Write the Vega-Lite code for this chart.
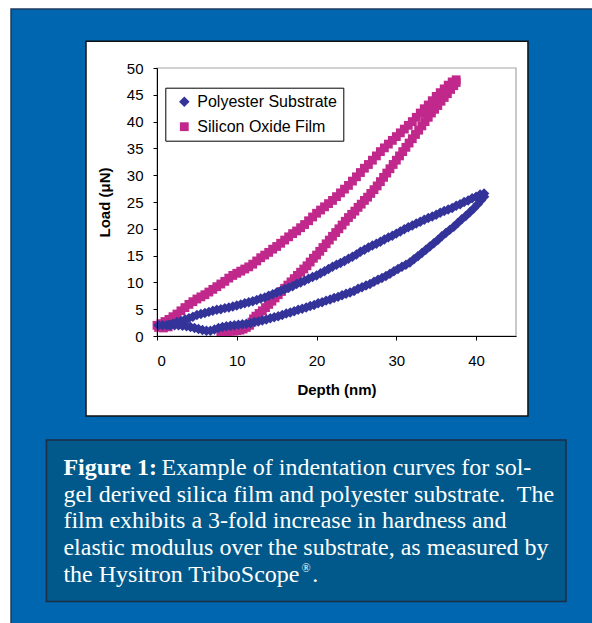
{
 "$schema": "https://vega.github.io/schema/vega-lite/v6.json",
 "width": 359,
 "height": 268,
 "autosize": {"type": "none"},
 "padding": {"left": 157, "top": 68, "right": 76, "bottom": 287},
 "background": "white",
 "config": {
  "view": {"stroke": null},
  "axis": {"grid": false, "labelOverlap": false, "labelFont": "Liberation Sans", "labelFontSize": 15, "labelColor": "black", "tickColor": "black", "tickSize": 4, "domainColor": "black", "domainWidth": 1, "tickWidth": 1, "titleFont": "Liberation Sans", "titleFontSize": 15, "titleFontWeight": "bold", "titleColor": "black"}
 },
 "datasets": {
  "curves": [
   {"series":"Silicon Oxide Film","depth":0.2,"load":1.6},{"series":"Silicon Oxide Film","depth":0.8,"load":1.5},{"series":"Silicon Oxide Film","depth":1.4,"load":1.7},
   {"series":"Silicon Oxide Film","depth":0.0,"load":2.0},{"series":"Silicon Oxide Film","depth":0.5,"load":2.3},{"series":"Silicon Oxide Film","depth":1.0,"load":2.7},{"series":"Silicon Oxide Film","depth":1.5,"load":3.1},{"series":"Silicon Oxide Film","depth":2.0,"load":3.6},{"series":"Silicon Oxide Film","depth":2.5,"load":4.1},{"series":"Silicon Oxide Film","depth":3.0,"load":4.7},{"series":"Silicon Oxide Film","depth":3.5,"load":5.3},{"series":"Silicon Oxide Film","depth":4.0,"load":5.9},{"series":"Silicon Oxide Film","depth":4.5,"load":6.4},{"series":"Silicon Oxide Film","depth":5.0,"load":6.9},{"series":"Silicon Oxide Film","depth":5.5,"load":7.3},{"series":"Silicon Oxide Film","depth":6.0,"load":7.7},{"series":"Silicon Oxide Film","depth":6.5,"load":8.2},{"series":"Silicon Oxide Film","depth":7.0,"load":8.7},{"series":"Silicon Oxide Film","depth":7.5,"load":9.2},{"series":"Silicon Oxide Film","depth":8.0,"load":9.7},{"series":"Silicon Oxide Film","depth":8.5,"load":10.2},{"series":"Silicon Oxide Film","depth":9.0,"load":10.8},{"series":"Silicon Oxide Film","depth":9.5,"load":11.3},{"series":"Silicon Oxide Film","depth":10.0,"load":11.7},{"series":"Silicon Oxide Film","depth":10.5,"load":12.1},{"series":"Silicon Oxide Film","depth":11.0,"load":12.5},{"series":"Silicon Oxide Film","depth":11.5,"load":12.9},{"series":"Silicon Oxide Film","depth":12.0,"load":13.4},{"series":"Silicon Oxide Film","depth":12.5,"load":14.0},{"series":"Silicon Oxide Film","depth":13.0,"load":14.6},{"series":"Silicon Oxide Film","depth":13.5,"load":15.1},{"series":"Silicon Oxide Film","depth":14.0,"load":15.6},{"series":"Silicon Oxide Film","depth":14.5,"load":16.2},{"series":"Silicon Oxide Film","depth":15.0,"load":16.7},{"series":"Silicon Oxide Film","depth":15.5,"load":17.3},{"series":"Silicon Oxide Film","depth":16.0,"load":17.9},{"series":"Silicon Oxide Film","depth":16.5,"load":18.5},{"series":"Silicon Oxide Film","depth":17.0,"load":19.1},{"series":"Silicon Oxide Film","depth":17.5,"load":19.6},{"series":"Silicon Oxide Film","depth":18.0,"load":20.2},{"series":"Silicon Oxide Film","depth":18.5,"load":20.8},{"series":"Silicon Oxide Film","depth":19.0,"load":21.5},{"series":"Silicon Oxide Film","depth":19.5,"load":22.2},{"series":"Silicon Oxide Film","depth":20.0,"load":22.9},{"series":"Silicon Oxide Film","depth":20.5,"load":23.5},{"series":"Silicon Oxide Film","depth":21.0,"load":24.1},{"series":"Silicon Oxide Film","depth":21.5,"load":24.7},{"series":"Silicon Oxide Film","depth":22.0,"load":25.3},{"series":"Silicon Oxide Film","depth":22.5,"load":26.0},{"series":"Silicon Oxide Film","depth":23.0,"load":26.7},{"series":"Silicon Oxide Film","depth":23.5,"load":27.4},{"series":"Silicon Oxide Film","depth":24.0,"load":28.1},{"series":"Silicon Oxide Film","depth":24.5,"load":28.9},{"series":"Silicon Oxide Film","depth":25.0,"load":29.7},{"series":"Silicon Oxide Film","depth":25.5,"load":30.5},{"series":"Silicon Oxide Film","depth":26.0,"load":31.3},{"series":"Silicon Oxide Film","depth":26.5,"load":32.0},{"series":"Silicon Oxide Film","depth":27.0,"load":32.8},{"series":"Silicon Oxide Film","depth":27.5,"load":33.6},{"series":"Silicon Oxide Film","depth":28.0,"load":34.4},{"series":"Silicon Oxide Film","depth":28.5,"load":35.1},{"series":"Silicon Oxide Film","depth":29.0,"load":35.8},{"series":"Silicon Oxide Film","depth":29.5,"load":36.5},{"series":"Silicon Oxide Film","depth":30.0,"load":37.2},{"series":"Silicon Oxide Film","depth":30.5,"load":37.9},{"series":"Silicon Oxide Film","depth":31.0,"load":38.6},{"series":"Silicon Oxide Film","depth":31.5,"load":39.3},{"series":"Silicon Oxide Film","depth":32.0,"load":40.0},{"series":"Silicon Oxide Film","depth":32.5,"load":40.8},{"series":"Silicon Oxide Film","depth":33.0,"load":41.6},{"series":"Silicon Oxide Film","depth":33.5,"load":42.4},{"series":"Silicon Oxide Film","depth":34.0,"load":43.1},{"series":"Silicon Oxide Film","depth":34.5,"load":43.9},{"series":"Silicon Oxide Film","depth":35.0,"load":44.7},{"series":"Silicon Oxide Film","depth":35.5,"load":45.4},{"series":"Silicon Oxide Film","depth":36.0,"load":46.1},{"series":"Silicon Oxide Film","depth":36.5,"load":46.8},{"series":"Silicon Oxide Film","depth":37.0,"load":47.4},{"series":"Silicon Oxide Film","depth":37.5,"load":47.8},
   {"series":"Silicon Oxide Film","depth":37.5,"load":47.3},{"series":"Silicon Oxide Film","depth":37.2,"load":46.7},{"series":"Silicon Oxide Film","depth":36.8,"load":46.0},{"series":"Silicon Oxide Film","depth":36.4,"load":45.2},{"series":"Silicon Oxide Film","depth":36.0,"load":44.5},{"series":"Silicon Oxide Film","depth":35.6,"load":43.8},{"series":"Silicon Oxide Film","depth":35.2,"load":43.0},{"series":"Silicon Oxide Film","depth":34.8,"load":42.3},{"series":"Silicon Oxide Film","depth":34.4,"load":41.6},{"series":"Silicon Oxide Film","depth":34.0,"load":40.8},{"series":"Silicon Oxide Film","depth":33.6,"load":40.0},{"series":"Silicon Oxide Film","depth":33.2,"load":39.2},{"series":"Silicon Oxide Film","depth":32.8,"load":38.4},{"series":"Silicon Oxide Film","depth":32.4,"load":37.6},{"series":"Silicon Oxide Film","depth":32.0,"load":36.8},{"series":"Silicon Oxide Film","depth":31.6,"load":36.0},{"series":"Silicon Oxide Film","depth":31.2,"load":35.2},{"series":"Silicon Oxide Film","depth":30.8,"load":34.4},{"series":"Silicon Oxide Film","depth":30.4,"load":33.6},{"series":"Silicon Oxide Film","depth":30.0,"load":32.8},{"series":"Silicon Oxide Film","depth":29.6,"load":32.0},{"series":"Silicon Oxide Film","depth":29.2,"load":31.2},{"series":"Silicon Oxide Film","depth":28.8,"load":30.4},{"series":"Silicon Oxide Film","depth":28.4,"load":29.6},{"series":"Silicon Oxide Film","depth":28.0,"load":28.8},{"series":"Silicon Oxide Film","depth":27.6,"load":28.0},{"series":"Silicon Oxide Film","depth":27.2,"load":27.3},{"series":"Silicon Oxide Film","depth":26.8,"load":26.6},{"series":"Silicon Oxide Film","depth":26.4,"load":25.9},{"series":"Silicon Oxide Film","depth":26.0,"load":25.3},{"series":"Silicon Oxide Film","depth":25.6,"load":24.6},{"series":"Silicon Oxide Film","depth":25.2,"load":24.0},{"series":"Silicon Oxide Film","depth":24.8,"load":23.3},{"series":"Silicon Oxide Film","depth":24.4,"load":22.7},{"series":"Silicon Oxide Film","depth":24.0,"load":22.1},{"series":"Silicon Oxide Film","depth":23.6,"load":21.4},{"series":"Silicon Oxide Film","depth":23.2,"load":20.7},{"series":"Silicon Oxide Film","depth":22.8,"load":20.0},{"series":"Silicon Oxide Film","depth":22.4,"load":19.3},{"series":"Silicon Oxide Film","depth":22.0,"load":18.6},{"series":"Silicon Oxide Film","depth":21.6,"load":17.9},{"series":"Silicon Oxide Film","depth":21.2,"load":17.2},{"series":"Silicon Oxide Film","depth":20.8,"load":16.5},{"series":"Silicon Oxide Film","depth":20.4,"load":15.8},{"series":"Silicon Oxide Film","depth":20.0,"load":15.1},{"series":"Silicon Oxide Film","depth":19.6,"load":14.5},{"series":"Silicon Oxide Film","depth":19.2,"load":13.8},{"series":"Silicon Oxide Film","depth":18.8,"load":13.1},{"series":"Silicon Oxide Film","depth":18.4,"load":12.5},{"series":"Silicon Oxide Film","depth":18.0,"load":11.9},{"series":"Silicon Oxide Film","depth":17.6,"load":11.3},{"series":"Silicon Oxide Film","depth":17.2,"load":10.7},{"series":"Silicon Oxide Film","depth":16.8,"load":10.1},{"series":"Silicon Oxide Film","depth":16.4,"load":9.5},{"series":"Silicon Oxide Film","depth":16.0,"load":8.9},{"series":"Silicon Oxide Film","depth":15.6,"load":8.3},{"series":"Silicon Oxide Film","depth":15.2,"load":7.7},{"series":"Silicon Oxide Film","depth":14.8,"load":7.1},{"series":"Silicon Oxide Film","depth":14.4,"load":6.5},{"series":"Silicon Oxide Film","depth":14.0,"load":5.9},{"series":"Silicon Oxide Film","depth":13.6,"load":5.3},{"series":"Silicon Oxide Film","depth":13.2,"load":4.7},{"series":"Silicon Oxide Film","depth":12.8,"load":4.2},{"series":"Silicon Oxide Film","depth":12.4,"load":3.7},{"series":"Silicon Oxide Film","depth":12.1,"load":3.2},{"series":"Silicon Oxide Film","depth":11.9,"load":2.6},{"series":"Silicon Oxide Film","depth":11.6,"load":2.0},{"series":"Silicon Oxide Film","depth":11.2,"load":1.6},{"series":"Silicon Oxide Film","depth":10.8,"load":1.3},{"series":"Silicon Oxide Film","depth":10.4,"load":1.1},{"series":"Silicon Oxide Film","depth":10.0,"load":1.0},{"series":"Silicon Oxide Film","depth":9.6,"load":0.9},{"series":"Silicon Oxide Film","depth":9.2,"load":0.9},{"series":"Silicon Oxide Film","depth":8.8,"load":0.8},{"series":"Silicon Oxide Film","depth":8.4,"load":0.8},{"series":"Silicon Oxide Film","depth":8.0,"load":0.8},
   {"series":"Polyester Substrate","depth":0.2,"load":2.0},{"series":"Polyester Substrate","depth":0.7,"load":2.0},{"series":"Polyester Substrate","depth":1.2,"load":2.0},{"series":"Polyester Substrate","depth":1.7,"load":2.0},{"series":"Polyester Substrate","depth":2.2,"load":2.0},{"series":"Polyester Substrate","depth":2.7,"load":2.0},{"series":"Polyester Substrate","depth":3.2,"load":1.9},{"series":"Polyester Substrate","depth":3.7,"load":1.8},{"series":"Polyester Substrate","depth":4.2,"load":1.7},{"series":"Polyester Substrate","depth":4.7,"load":1.5},{"series":"Polyester Substrate","depth":5.2,"load":1.3},{"series":"Polyester Substrate","depth":5.7,"load":1.1},{"series":"Polyester Substrate","depth":6.2,"load":1.0},{"series":"Polyester Substrate","depth":6.7,"load":1.0},{"series":"Polyester Substrate","depth":7.2,"load":1.2},
   {"series":"Polyester Substrate","depth":1.5,"load":2.1},{"series":"Polyester Substrate","depth":2.0,"load":2.3},{"series":"Polyester Substrate","depth":2.5,"load":2.6},{"series":"Polyester Substrate","depth":3.0,"load":2.8},{"series":"Polyester Substrate","depth":3.5,"load":3.1},{"series":"Polyester Substrate","depth":4.0,"load":3.3},{"series":"Polyester Substrate","depth":4.5,"load":3.6},{"series":"Polyester Substrate","depth":5.0,"load":3.9},{"series":"Polyester Substrate","depth":5.5,"load":4.1},{"series":"Polyester Substrate","depth":6.0,"load":4.3},{"series":"Polyester Substrate","depth":6.5,"load":4.5},{"series":"Polyester Substrate","depth":7.0,"load":4.7},{"series":"Polyester Substrate","depth":7.5,"load":4.9},{"series":"Polyester Substrate","depth":8.0,"load":5.0},{"series":"Polyester Substrate","depth":8.5,"load":5.2},{"series":"Polyester Substrate","depth":9.0,"load":5.3},{"series":"Polyester Substrate","depth":9.5,"load":5.5},{"series":"Polyester Substrate","depth":10.0,"load":5.7},{"series":"Polyester Substrate","depth":10.5,"load":5.9},{"series":"Polyester Substrate","depth":11.0,"load":6.1},{"series":"Polyester Substrate","depth":11.5,"load":6.3},{"series":"Polyester Substrate","depth":12.0,"load":6.5},{"series":"Polyester Substrate","depth":12.5,"load":6.7},{"series":"Polyester Substrate","depth":13.0,"load":7.0},{"series":"Polyester Substrate","depth":13.5,"load":7.2},{"series":"Polyester Substrate","depth":14.0,"load":7.5},{"series":"Polyester Substrate","depth":14.5,"load":7.8},{"series":"Polyester Substrate","depth":15.0,"load":8.1},{"series":"Polyester Substrate","depth":15.5,"load":8.4},{"series":"Polyester Substrate","depth":16.0,"load":8.7},{"series":"Polyester Substrate","depth":16.5,"load":9.0},{"series":"Polyester Substrate","depth":17.0,"load":9.3},{"series":"Polyester Substrate","depth":17.5,"load":9.7},{"series":"Polyester Substrate","depth":18.0,"load":10.0},{"series":"Polyester Substrate","depth":18.5,"load":10.3},{"series":"Polyester Substrate","depth":19.0,"load":10.7},{"series":"Polyester Substrate","depth":19.5,"load":11.0},{"series":"Polyester Substrate","depth":20.0,"load":11.3},{"series":"Polyester Substrate","depth":20.5,"load":11.7},{"series":"Polyester Substrate","depth":21.0,"load":12.1},{"series":"Polyester Substrate","depth":21.5,"load":12.5},{"series":"Polyester Substrate","depth":22.0,"load":12.9},{"series":"Polyester Substrate","depth":22.5,"load":13.3},{"series":"Polyester Substrate","depth":23.0,"load":13.6},{"series":"Polyester Substrate","depth":23.5,"load":14.0},{"series":"Polyester Substrate","depth":24.0,"load":14.4},{"series":"Polyester Substrate","depth":24.5,"load":14.8},{"series":"Polyester Substrate","depth":25.0,"load":15.2},{"series":"Polyester Substrate","depth":25.5,"load":15.7},{"series":"Polyester Substrate","depth":26.0,"load":16.1},{"series":"Polyester Substrate","depth":26.5,"load":16.5},{"series":"Polyester Substrate","depth":27.0,"load":16.9},{"series":"Polyester Substrate","depth":27.5,"load":17.2},{"series":"Polyester Substrate","depth":28.0,"load":17.6},{"series":"Polyester Substrate","depth":28.5,"load":18.0},{"series":"Polyester Substrate","depth":29.0,"load":18.4},{"series":"Polyester Substrate","depth":29.5,"load":18.7},{"series":"Polyester Substrate","depth":30.0,"load":19.1},{"series":"Polyester Substrate","depth":30.5,"load":19.5},{"series":"Polyester Substrate","depth":31.0,"load":19.9},{"series":"Polyester Substrate","depth":31.5,"load":20.3},{"series":"Polyester Substrate","depth":32.0,"load":20.6},{"series":"Polyester Substrate","depth":32.5,"load":21.0},{"series":"Polyester Substrate","depth":33.0,"load":21.3},{"series":"Polyester Substrate","depth":33.5,"load":21.7},{"series":"Polyester Substrate","depth":34.0,"load":22.0},{"series":"Polyester Substrate","depth":34.5,"load":22.3},{"series":"Polyester Substrate","depth":35.0,"load":22.6},{"series":"Polyester Substrate","depth":35.5,"load":23.0},{"series":"Polyester Substrate","depth":36.0,"load":23.3},{"series":"Polyester Substrate","depth":36.5,"load":23.6},{"series":"Polyester Substrate","depth":37.0,"load":23.9},{"series":"Polyester Substrate","depth":37.5,"load":24.3},{"series":"Polyester Substrate","depth":38.0,"load":24.6},{"series":"Polyester Substrate","depth":38.5,"load":25.0},{"series":"Polyester Substrate","depth":39.0,"load":25.3},{"series":"Polyester Substrate","depth":39.5,"load":25.7},{"series":"Polyester Substrate","depth":40.0,"load":26.0},{"series":"Polyester Substrate","depth":40.5,"load":26.4},{"series":"Polyester Substrate","depth":41.0,"load":26.6},
   {"series":"Polyester Substrate","depth":41.0,"load":26.0},{"series":"Polyester Substrate","depth":40.6,"load":25.3},{"series":"Polyester Substrate","depth":40.2,"load":24.6},{"series":"Polyester Substrate","depth":39.7,"load":23.8},{"series":"Polyester Substrate","depth":39.2,"load":23.1},{"series":"Polyester Substrate","depth":38.7,"load":22.4},{"series":"Polyester Substrate","depth":38.2,"load":21.8},{"series":"Polyester Substrate","depth":37.7,"load":21.1},{"series":"Polyester Substrate","depth":37.2,"load":20.4},{"series":"Polyester Substrate","depth":36.7,"load":19.8},{"series":"Polyester Substrate","depth":36.2,"load":19.2},{"series":"Polyester Substrate","depth":35.7,"load":18.6},{"series":"Polyester Substrate","depth":35.2,"load":17.9},{"series":"Polyester Substrate","depth":34.7,"load":17.3},{"series":"Polyester Substrate","depth":34.2,"load":16.7},{"series":"Polyester Substrate","depth":33.7,"load":16.1},{"series":"Polyester Substrate","depth":33.2,"load":15.5},{"series":"Polyester Substrate","depth":32.7,"load":14.9},{"series":"Polyester Substrate","depth":32.2,"load":14.3},{"series":"Polyester Substrate","depth":31.7,"load":13.7},{"series":"Polyester Substrate","depth":31.2,"load":13.3},{"series":"Polyester Substrate","depth":30.7,"load":12.9},{"series":"Polyester Substrate","depth":30.2,"load":12.5},{"series":"Polyester Substrate","depth":29.7,"load":12.1},{"series":"Polyester Substrate","depth":29.2,"load":11.6},{"series":"Polyester Substrate","depth":28.7,"load":11.2},{"series":"Polyester Substrate","depth":28.2,"load":10.8},{"series":"Polyester Substrate","depth":27.7,"load":10.5},{"series":"Polyester Substrate","depth":27.2,"load":10.1},{"series":"Polyester Substrate","depth":26.7,"load":9.7},{"series":"Polyester Substrate","depth":26.2,"load":9.4},{"series":"Polyester Substrate","depth":25.7,"load":9.1},{"series":"Polyester Substrate","depth":25.2,"load":8.8},{"series":"Polyester Substrate","depth":24.7,"load":8.4},{"series":"Polyester Substrate","depth":24.2,"load":8.1},{"series":"Polyester Substrate","depth":23.7,"load":7.9},{"series":"Polyester Substrate","depth":23.2,"load":7.6},{"series":"Polyester Substrate","depth":22.7,"load":7.3},{"series":"Polyester Substrate","depth":22.2,"load":7.1},{"series":"Polyester Substrate","depth":21.7,"load":6.8},{"series":"Polyester Substrate","depth":21.2,"load":6.6},{"series":"Polyester Substrate","depth":20.7,"load":6.3},{"series":"Polyester Substrate","depth":20.2,"load":6.1},{"series":"Polyester Substrate","depth":19.7,"load":5.8},{"series":"Polyester Substrate","depth":19.2,"load":5.6},{"series":"Polyester Substrate","depth":18.7,"load":5.3},{"series":"Polyester Substrate","depth":18.2,"load":5.1},{"series":"Polyester Substrate","depth":17.7,"load":4.9},{"series":"Polyester Substrate","depth":17.2,"load":4.6},{"series":"Polyester Substrate","depth":16.7,"load":4.4},{"series":"Polyester Substrate","depth":16.2,"load":4.2},{"series":"Polyester Substrate","depth":15.7,"load":3.9},{"series":"Polyester Substrate","depth":15.2,"load":3.7},{"series":"Polyester Substrate","depth":14.7,"load":3.5},{"series":"Polyester Substrate","depth":14.2,"load":3.3},{"series":"Polyester Substrate","depth":13.7,"load":3.1},{"series":"Polyester Substrate","depth":13.2,"load":2.9},{"series":"Polyester Substrate","depth":12.7,"load":2.7},{"series":"Polyester Substrate","depth":12.2,"load":2.6},{"series":"Polyester Substrate","depth":11.7,"load":2.4},{"series":"Polyester Substrate","depth":11.2,"load":2.3},{"series":"Polyester Substrate","depth":10.7,"load":2.2},{"series":"Polyester Substrate","depth":10.2,"load":2.1},{"series":"Polyester Substrate","depth":9.7,"load":2.0},{"series":"Polyester Substrate","depth":9.2,"load":1.9},{"series":"Polyester Substrate","depth":8.7,"load":1.8},{"series":"Polyester Substrate","depth":8.2,"load":1.7},{"series":"Polyester Substrate","depth":7.7,"load":1.5}
  ],
  "one": [{}]
 },
 "layer": [
  {
   "data": {"name": "one"},
   "mark": {"type": "rect", "fill": "#0066b0", "stroke": "#1d3c5c", "strokeWidth": 1.5},
   "encoding": {
    "x": {"datum": -18.3, "type": "quantitative", "title": "Depth (nm)", "scale": {"domain": [0, 45], "nice": false, "zero": false},
          "axis": {"values": [0, 10, 20, 30, 40], "labelOverlap": false, "labelPadding": 13, "titlePadding": 14, "zindex": 2}},
    "x2": {"datum": 56},
    "y": {"datum": 61.0, "type": "quantitative", "title": "Load (μN)", "scale": {"domain": [0, 50], "nice": false, "zero": false},
          "axis": {"values": [0, 5, 10, 15, 20, 25, 30, 35, 40, 45, 50], "tickCount": 11, "labelOverlap": false, "labelPadding": 10, "titlePadding": 14, "zindex": 2}},
    "y2": {"datum": -56}
   }
  },
  {
   "data": {"name": "one"},
   "mark": {"type": "rect", "fill": "white", "stroke": "#111111", "strokeWidth": 1.5},
   "encoding": {
    "x": {"datum": -8.9, "type": "quantitative", "title": "Depth (nm)"},
    "x2": {"datum": 46.5},
    "y": {"datum": 55.0, "type": "quantitative", "title": "Load (μN)"},
    "y2": {"datum": -14.93}
   }
  },
  {
   "data": {"name": "one"},
   "mark": {"type": "rect", "fill": "#00598a", "stroke": "#1c2d44", "strokeWidth": 1.5},
   "encoding": {
    "x": {"datum": -13.86, "type": "quantitative", "title": "Depth (nm)"},
    "x2": {"datum": 51.27},
    "y": {"datum": -19.4, "type": "quantitative", "title": "Load (μN)"},
    "y2": {"datum": -49.53}
   }
  },
  {
   "data": {"name": "one"},
   "mark": {"type": "rect", "fillOpacity": 0, "stroke": "#a6a6a6", "strokeWidth": 1.2},
   "encoding": {
    "x": {"datum": 0, "type": "quantitative", "title": "Depth (nm)"},
    "x2": {"datum": 45},
    "y": {"datum": 50, "type": "quantitative", "title": "Load (μN)"},
    "y2": {"datum": 0}
   }
  },
  {
   "data": {"name": "curves"},
   "mark": {"type": "point", "filled": true, "opacity": 1, "strokeWidth": 0},
   "encoding": {
    "x": {"field": "depth", "type": "quantitative", "title": "Depth (nm)",
          "axis": {"values": [0, 10, 20, 30, 40], "labelOverlap": false, "labelPadding": 13, "titlePadding": 14, "zindex": 2}},
    "y": {"field": "load", "type": "quantitative", "title": "Load (μN)",
          "axis": {"values": [0, 5, 10, 15, 20, 25, 30, 35, 40, 45, 50], "tickCount": 11, "labelOverlap": false, "labelPadding": 10, "titlePadding": 14, "zindex": 2}},
    "color": {"field": "series", "type": "nominal",
              "scale": {"domain": ["Polyester Substrate", "Silicon Oxide Film"], "range": ["#333399", "#c0288c"]},
              "legend": {"title": null, "orient": "none", "legendX": 8.3, "legendY": 19.7, "fillColor": "white", "strokeColor": "black", "padding": 6, "labelFont": "Liberation Sans", "labelFontSize": 16, "labelColor": "black", "symbolSize": 80, "symbolOffset": 5, "labelOffset": 5, "rowPadding": 9, "symbolStrokeWidth": 0}},
    "shape": {"field": "series", "type": "nominal",
              "scale": {"domain": ["Polyester Substrate", "Silicon Oxide Film"], "range": ["diamond", "square"]}},
    "size": {"field": "series", "type": "nominal", "legend": null,
             "scale": {"domain": ["Polyester Substrate", "Silicon Oxide Film"], "range": [110, 78]}}
   }
  },
  {
   "data": {"name": "one"},
   "mark": {"type": "text", "text": "Figure 1:", "font": "Liberation Serif", "fontSize": 24, "fontWeight": "bold", "color": "white", "align": "left", "baseline": "alphabetic"},
   "encoding": {"x": {"datum": -11.73, "type": "quantitative", "title": "Depth (nm)"}, "y": {"datum": -25.93, "type": "quantitative", "title": "Load (μN)"}}
  },
  {
   "data": {"name": "one"},
   "mark": {"type": "text", "text": "Example of indentation curves for sol-", "font": "Liberation Serif", "fontSize": 24, "color": "white", "align": "left", "baseline": "alphabetic"},
   "encoding": {"x": {"datum": 0.56, "type": "quantitative", "title": "Depth (nm)"}, "y": {"datum": -25.93, "type": "quantitative", "title": "Load (μN)"}}
  },
  {
   "data": {"name": "one"},
   "mark": {"type": "text", "text": ["gel derived silica film and polyester substrate.\u00a0 The", "film exhibits a 3-fold increase in hardness and", "elastic modulus over the substrate, as measured by"], "lineHeight": 26.7, "font": "Liberation Serif", "fontSize": 24, "color": "white", "align": "left", "baseline": "alphabetic"},
   "encoding": {"x": {"datum": -11.73, "type": "quantitative", "title": "Depth (nm)"}, "y": {"datum": -30.91, "type": "quantitative", "title": "Load (μN)"}}
  },
  {
   "data": {"name": "one"},
   "mark": {"type": "text", "text": "the Hysitron TriboScope", "font": "Liberation Serif", "fontSize": 24, "color": "white", "align": "left", "baseline": "alphabetic"},
   "encoding": {"x": {"datum": -11.73, "type": "quantitative", "title": "Depth (nm)"}, "y": {"datum": -45.84, "type": "quantitative", "title": "Load (μN)"}}
  },
  {
   "data": {"name": "one"},
   "mark": {"type": "text", "text": "®", "font": "Liberation Serif", "fontSize": 12, "color": "white", "align": "left", "baseline": "alphabetic"},
   "encoding": {"x": {"datum": 18.1, "type": "quantitative", "title": "Depth (nm)"}, "y": {"datum": -43.94, "type": "quantitative", "title": "Load (μN)"}}
  },
  {
   "data": {"name": "one"},
   "mark": {"type": "text", "text": ".", "font": "Liberation Serif", "fontSize": 24, "color": "white", "align": "left", "baseline": "alphabetic"},
   "encoding": {"x": {"datum": 19.45, "type": "quantitative", "title": "Depth (nm)"}, "y": {"datum": -45.84, "type": "quantitative", "title": "Load (μN)"}}
  }
 ]
}
